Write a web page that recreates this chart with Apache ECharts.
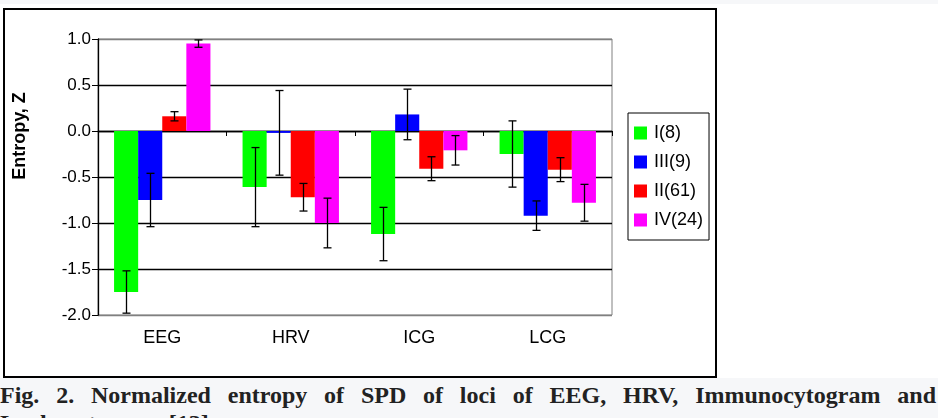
<!DOCTYPE html>
<html>
<head>
<meta charset="utf-8">
<script src="https://cdn.jsdelivr.net/npm/echarts@6/dist/echarts.min.js"></script>
<style>
  html, body { margin:0; padding:0; background:#ffffff; width:938px; height:418px; overflow:hidden; }
  #topstrip { position:absolute; left:0; top:0; width:938px; height:4px; background:#f6f7f9; }
  #frame { position:absolute; left:3px; top:8px; width:710px; height:366px; border:2px solid #000; background:#fff; }
  #chart { position:absolute; left:0; top:0; width:938px; height:378px; }
  #caption { position:absolute; left:0; top:378px; width:938px; height:40px; background:#f6f7f9; overflow:hidden;
    font-family:"Liberation Serif","Times New Roman",serif; font-weight:bold; font-size:24px; color:#222; }
  #cap1 { position:absolute; left:0; top:4px; width:936px; line-height:26px; }
  #cap1 span { display:block; text-align:justify; text-align-last:justify; }
  #cap2 { position:absolute; left:0; top:32px; line-height:26px; }
</style>
</head>
<body>
<div id="topstrip"></div>
<div id="frame"></div>
<div id="chart"></div>
<div id="caption">
  <div id="cap1"><span>Fig. 2. Normalized entropy of SPD of loci of EEG, HRV, Immunocytogram and</span></div>
  <div id="cap2">Leukocytogram [13].</div>
</div>
<script>
const categories = ['EEG', 'HRV', 'ICG', 'LCG'];
const seriesNames = ['I(8)', 'III(9)', 'II(61)', 'IV(24)'];
const seriesColors = ['#00ff00', '#0000ff', '#ff0000', '#ff00ff'];
const valuesI   = [-1.75, -0.61, -1.12, -0.25];
const valuesIII = [-0.75, -0.02,  0.18, -0.92];
const valuesII  = [ 0.16, -0.72, -0.41, -0.42];
const valuesIV  = [ 0.95, -1.00, -0.21, -0.78];
const errI   = [0.23, 0.43, 0.29, 0.36];
const errIII = [0.29, 0.46, 0.275, 0.16];
const errII  = [0.05, 0.15, 0.13, 0.13];
const errIV  = [0.04, 0.27, 0.16, 0.20];
const yTicks = ['-2.0','-1.5','-1.0','-0.5','0.0','0.5','1.0'];
const yAxisTitle = 'Entropy, Z';

const allValues = [valuesI, valuesIII, valuesII, valuesIV];
const allErrs = [errI, errIII, errII, errIV];

const chart = echarts.init(document.getElementById('chart'), null, {renderer:'canvas'});

const barSeries = allValues.map((vals, i) => ({
  name: seriesNames[i],
  type: 'bar',
  data: vals,
  xAxisIndex: 0,
  barGap: '0%',
  barCategoryGap: '25%',
  itemStyle: { color: seriesColors[i] },
  z: 2
}));

const errSeries = allValues.map((vals, i) => ({
  type: 'custom',
  xAxisIndex: 0,
  z: 5,
  silent: true,
  encode: { x: 0, y: [1, 2] },
  data: vals.map((v, c) => [c, v - allErrs[i][c], v + allErrs[i][c]]),
  renderItem: function (params, api) {
    const c = api.value(0);
    const lo = api.value(1), hi = api.value(2);
    const band = api.size([1, 0])[0];
    const bw = band * 0.75 / 4;
    const off = (i - 1.5) * bw;
    const pTop = api.coord([c, hi]);
    const pBot = api.coord([c, lo]);
    const x = Math.round(pTop[0] + off) + 0.5;
    const style = { stroke: '#000', lineWidth: 1.3 };
    return {
      type: 'group',
      children: [
        { type: 'line', shape: { x1: x, y1: pTop[1], x2: x, y2: pBot[1] }, style: style },
        { type: 'line', shape: { x1: x - 4, y1: pTop[1], x2: x + 4, y2: pTop[1] }, style: style },
        { type: 'line', shape: { x1: x - 4, y1: pBot[1], x2: x + 4, y2: pBot[1] }, style: style }
      ]
    };
  }
}));

const option = {
  animation: false,
  textStyle: { fontFamily: 'Liberation Sans, Arial, sans-serif' },
  grid: { left: 98, right: 326, top: 39, bottom: 63, show: true, borderColor: '#808080', borderWidth: 1, containLabel: false },
  graphic: [{
    type: 'text', x: 20, y: 136, rotation: Math.PI / 2,
    style: { text: yAxisTitle, fontSize: 18, fontWeight: 'bold', fill: '#000',
      fontFamily: 'Liberation Sans, Arial, sans-serif', align: 'center', verticalAlign: 'middle' }
  }],
  legend: {
    data: seriesNames,
    orient: 'vertical',
    left: 628, top: 113,
    padding: [11, 6, 11, 6],
    itemWidth: 13, itemHeight: 13, itemGap: 11,
    icon: 'rect',
    borderColor: '#000', borderWidth: 1,
    textStyle: { fontSize: 18, lineHeight: 18, color: '#000', fontFamily: 'Liberation Sans, Arial, sans-serif', padding: [0, 0, 0, 2] }
  },
  xAxis: [
    {
      type: 'category', data: categories, position: 'bottom',
      axisLine: { onZero: true, lineStyle: { color: '#000', width: 1.3 } },
      axisTick: { show: true, inside: false, length: 5, lineStyle: { color: '#000' } },
      axisLabel: { show: false },
      splitLine: { show: false }
    },
    {
      type: 'category', data: categories, position: 'bottom',
      axisLine: { show: false }, axisTick: { show: false },
      axisLabel: { show: true, fontSize: 18, color: '#000', margin: 14 }
    }
  ],
  yAxis: {
    type: 'value', min: -2, max: 1, interval: 0.5,
    axisLine: { show: true, lineStyle: { color: '#000', width: 1.3 } },
    axisTick: { show: true, length: 6, lineStyle: { color: '#000' } },
    axisLabel: { fontSize: 17, color: '#000', margin: 7, formatter: function (v) { return yTicks[Math.round((v + 2) / 0.5)]; } },
    splitLine: { show: true, lineStyle: { color: ['#808080', '#000', '#000', '#000', '#000', '#000', '#808080'], width: 1.3 } }
  },
  series: barSeries.concat(errSeries)
};
chart.setOption(option);
</script>
</body>
</html>
